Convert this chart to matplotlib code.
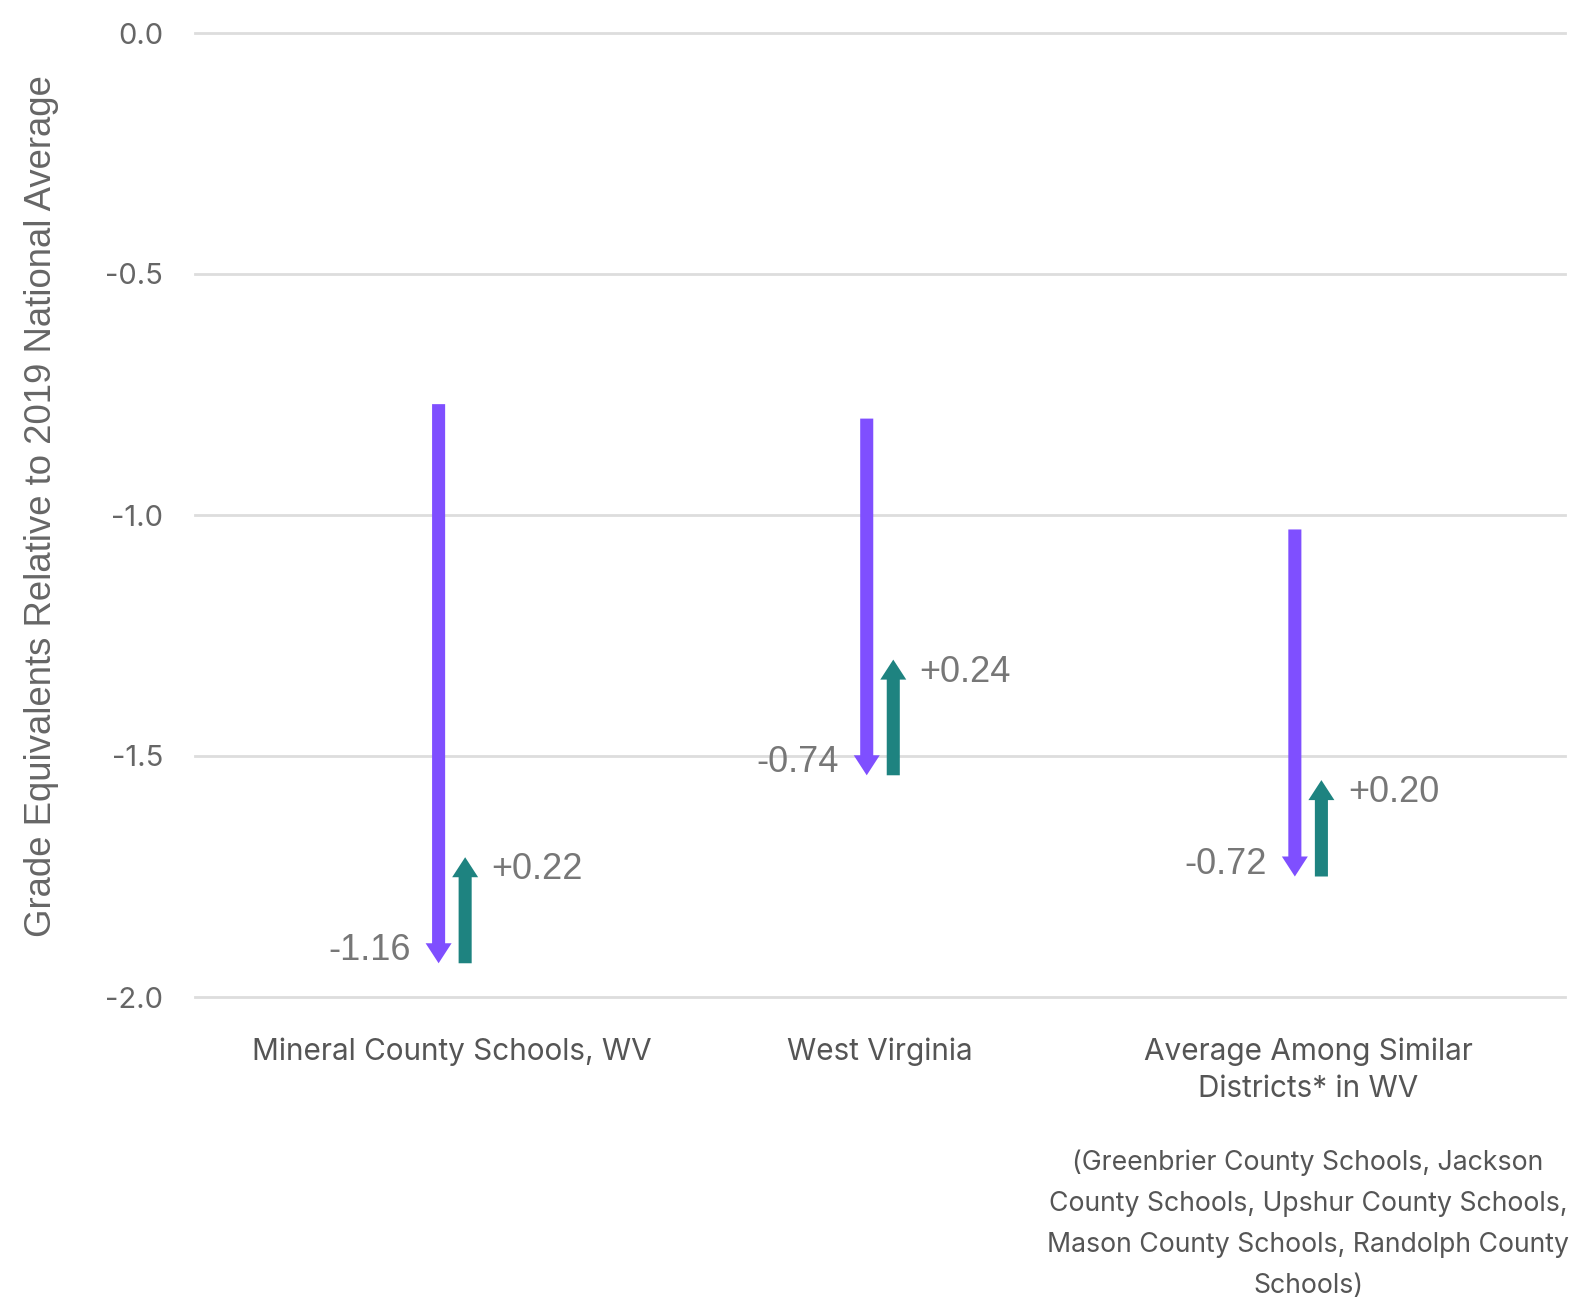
import matplotlib
matplotlib.use("Agg")
import matplotlib.pyplot as plt
from matplotlib.patches import FancyArrowPatch, ArrowStyle

categories = ["Mineral County Schools, WV", "West Virginia",
              "Average Among Similar\nDistricts* in WV"]
start_vals = [-0.77, -0.80, -1.03]
declines = [-1.16, -0.74, -0.72]
recoveries = [0.22, 0.24, 0.20]
decline_labels = ["-1.16", "-0.74", "-0.72"]
recovery_labels = ["+0.22", "+0.24", "+0.20"]
yticks = [0.0, -0.5, -1.0, -1.5, -2.0]
ytick_labels = ["0.0", "-0.5", "-1.0", "-1.5", "-2.0"]
footnote = ("(Greenbrier County Schools, Jackson\nCounty Schools, Upshur County Schools,\n"
            "Mason County Schools, Randolph County\nSchools)")

PURPLE = "#7f4fff"
TEAL = "#1e8380"
DPI = 100
fig = plt.figure(figsize=(15.83, 13.12), dpi=DPI)
ax = fig.add_axes([195/1583, 1-997/1312, (1565-195)/1583, (997-33)/1312])
ax.set_xlim(-0.6, 2.6)
ax.set_ylim(-2.0, 0.0)
for s in ax.spines.values():
    s.set_visible(False)
for t in yticks:
    ax.axhline(t, color="#dddddd", lw=2, clip_on=False, zorder=0)
ax.set_yticks(yticks)
ax.set_yticklabels(ytick_labels, fontsize=21, color="#666666", family="Inter")
ax.tick_params(axis="y", length=0, pad=23)
ax.set_xticks([])
ax.set_ylabel("Grade Equivalents Relative to 2019 National Average",
              fontsize=26.3, color="#666666", family="Liberation Sans")
ax.yaxis.set_label_coords(-0.0993, 0.5093)

style = ArrowStyle.Simple(head_length=14.4, head_width=18.7, tail_width=9.4)
off = 0.031
for i, cat in enumerate(categories):
    s = start_vals[i]
    e = s + declines[i]
    r = e + recoveries[i]
    a1 = FancyArrowPatch((i - off, s), (i - off, e), arrowstyle=style,
                         mutation_scale=1, color=PURPLE, shrinkA=0, shrinkB=0, lw=0)
    ax.add_patch(a1)
    a2 = FancyArrowPatch((i + off, e), (i + off, r), arrowstyle=style,
                         mutation_scale=1, color=TEAL, shrinkA=0, shrinkB=0, lw=0)
    ax.add_patch(a2)
    ax.annotate(decline_labels[i], (i - off, e), xytext=(-20, 9),
                textcoords="offset points", ha="right", va="center",
                fontsize=26, color="#777777", family="Liberation Sans")
    ax.annotate(recovery_labels[i], (i + off, r), xytext=(19, -9),
                textcoords="offset points", ha="left", va="center",
                fontsize=26, color="#777777", family="Liberation Sans")
    ax.annotate(cat, (i, -2.0), xytext=(0, -29), textcoords="offset points",
                ha="center", va="top", fontsize=21.4, color="#555555",
                family="Inter", linespacing=1.43, annotation_clip=False)

ax.annotate(footnote, (2, -2.0), xytext=(0, -110), textcoords="offset points",
            ha="center", va="top", fontsize=19.2, color="#555555",
            family="Inter", linespacing=1.75, annotation_clip=False)

fig.savefig("out.png", dpi=DPI)
